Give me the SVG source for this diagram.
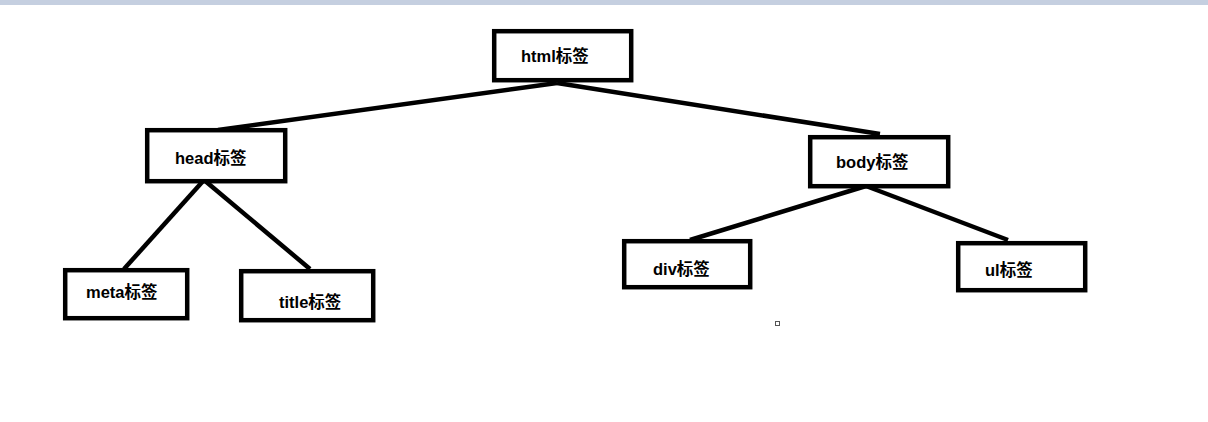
<svg xmlns="http://www.w3.org/2000/svg" width="1208" height="422" viewBox="0 0 1208 422">
<style>
.box{fill:#fff;stroke:#000;stroke-width:4.5}
.lbl{font-family:"Liberation Sans","Noto Sans CJK SC",sans-serif;font-weight:bold;font-size:16.5px;fill:#000}
.ln{stroke:#000;stroke-width:4.5;fill:none;stroke-linecap:butt}
</style>
<rect x="0" y="0" width="1208" height="422" fill="#fff"/>
<rect x="0" y="0" width="1208" height="5" fill="#c5cfe0"/>
<g id="connectors">
<line class="ln" x1="557" y1="83" x2="218" y2="130"/>
<line class="ln" x1="557" y1="83" x2="880" y2="134"/>
<line class="ln" x1="204" y1="180" x2="124" y2="269"/>
<line class="ln" x1="204" y1="180" x2="310" y2="269"/>
<line class="ln" x1="866" y1="186" x2="690" y2="240"/>
<line class="ln" x1="866" y1="186" x2="1008" y2="240"/>
</g>
<g id="html"><rect class="box" x="494.2" y="31.2" width="137" height="49"/><text class="lbl" x="521" y="62">html标签</text></g>
<g id="head"><rect class="box" x="147.2" y="130.2" width="138" height="51"/><text class="lbl" x="175" y="164">head标签</text></g>
<g id="body"><rect class="box" x="810.2" y="137.2" width="138" height="49"/><text class="lbl" x="836" y="168">body标签</text></g>
<g id="meta"><rect class="box" x="65.2" y="270.2" width="122" height="48"/><text class="lbl" x="86" y="298">meta标签</text></g>
<g id="title"><rect class="box" x="241.2" y="271.2" width="132" height="49"/><text class="lbl" x="279" y="308">title标签</text></g>
<g id="div"><rect class="box" x="624.2" y="241.2" width="126" height="46"/><text class="lbl" x="653" y="275">div标签</text></g>
<g id="ul"><rect class="box" x="958.2" y="243.2" width="127" height="47"/><text class="lbl" x="985" y="276">ul标签</text></g>
<rect x="775.5" y="321.5" width="4" height="4" fill="#fff" stroke="#555" stroke-width="1"/>
</svg>
